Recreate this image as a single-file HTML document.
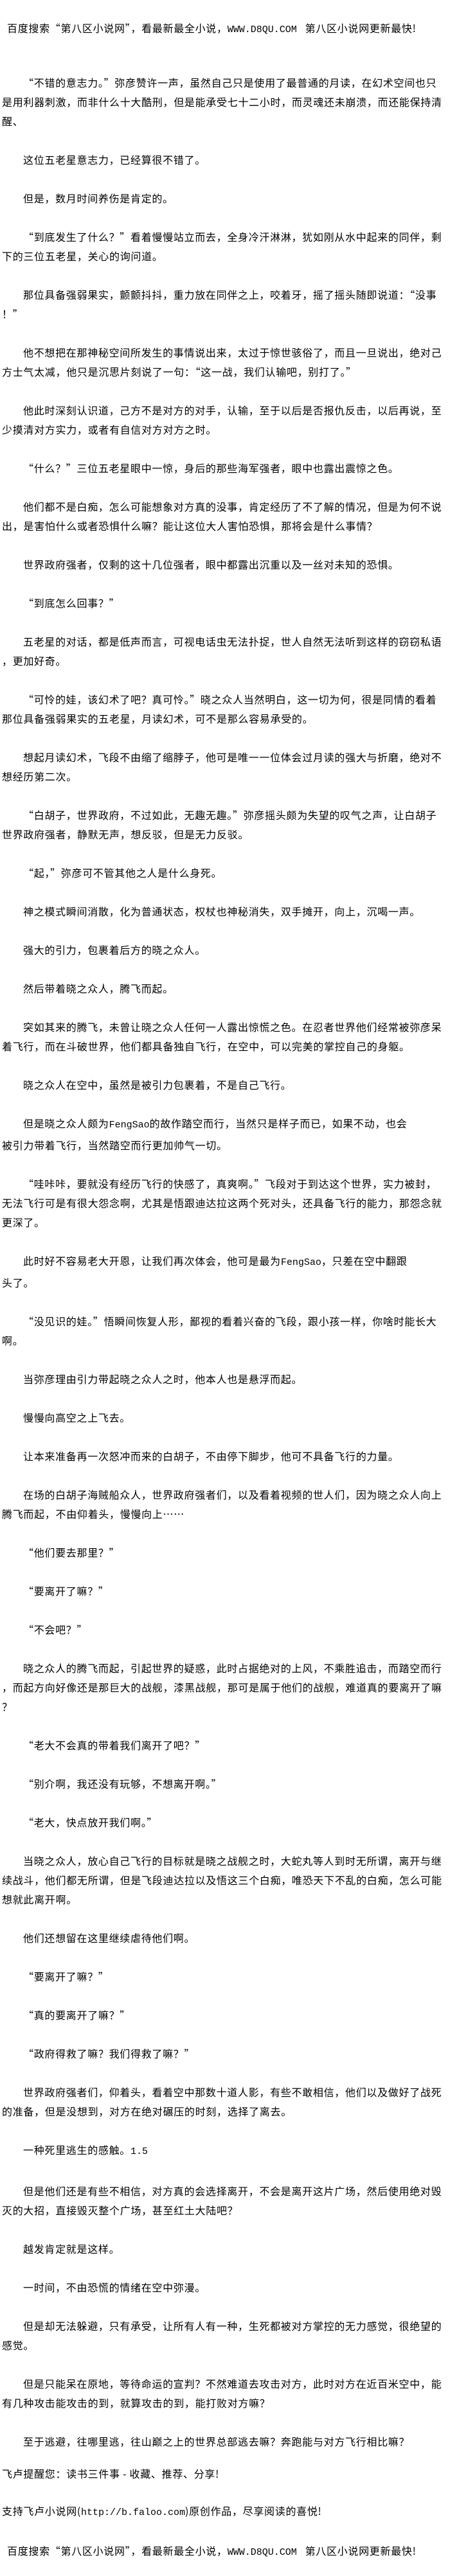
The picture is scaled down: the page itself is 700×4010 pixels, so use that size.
<!DOCTYPE html>
<html><head><meta charset="utf-8">
<style>
html,body{margin:0;padding:0;background:#fff;}
body{width:700px;height:4010px;position:relative;overflow:hidden;color:#000;
font-family:"Noto Sans CJK SC","Liberation Sans",sans-serif;font-size:16px;letter-spacing:0.7px;}
.l{position:absolute;left:3px;white-space:nowrap;line-height:30px;height:30px;}
#main{position:absolute;left:3px;top:113px;width:697px;line-height:30px;white-space:nowrap;}
#main p{margin:0 0 30px 0;text-indent:33px;}
.m{font-family:"Liberation Mono",monospace;font-size:15px;letter-spacing:0;}
</style></head><body>
<div class="l" style="top:28px;left:11px">百度搜索“第八区小说网”，看最新最全小说，<span class="m">WWW.D8QU.COM</span>&nbsp;&nbsp;&nbsp;第八区小说网更新最快!</div>
<div id="main">
<p>“不错的意志力。”弥彦赞许一声，虽然自己只是使用了最普通的月读，在幻术空间也只<br>是用利器刺激，而非什么十大酷刑，但是能承受七十二小时，而灵魂还未崩溃，而还能保持清<br>醒、</p>
<p>这位五老星意志力，已经算很不错了。</p>
<p>但是，数月时间养伤是肯定的。</p>
<p>“到底发生了什么？”看着慢慢站立而去，全身冷汗淋淋，犹如刚从水中起来的同伴，剩<br>下的三位五老星，关心的询问道。</p>
<p>那位具备强弱果实，颤颤抖抖，重力放在同伴之上，咬着牙，摇了摇头随即说道：“没事<br>！”</p>
<p>他不想把在那神秘空间所发生的事情说出来，太过于惊世骇俗了，而且一旦说出，绝对己<br>方士气太减，他只是沉思片刻说了一句：“这一战，我们认输吧，别打了。”</p>
<p>他此时深刻认识道，己方不是对方的对手，认输，至于以后是否报仇反击，以后再说，至<br>少摸清对方实力，或者有自信对方对方之时。</p>
<p>“什么？”三位五老星眼中一惊，身后的那些海军强者，眼中也露出震惊之色。</p>
<p>他们都不是白痴，怎么可能想象对方真的没事，肯定经历了不了解的情况，但是为何不说<br>出，是害怕什么或者恐惧什么嘛？能让这位大人害怕恐惧，那将会是什么事情？</p>
<p>世界政府强者，仅剩的这十几位强者，眼中都露出沉重以及一丝对未知的恐惧。</p>
<p>“到底怎么回事？”</p>
<p>五老星的对话，都是低声而言，可视电话虫无法扑捉，世人自然无法听到这样的窃窃私语<br>，更加好奇。</p>
<p>“可怜的娃，该幻术了吧？真可怜。”晓之众人当然明白，这一切为何，很是同情的看着<br>那位具备强弱果实的五老星，月读幻术，可不是那么容易承受的。</p>
<p>想起月读幻术，飞段不由缩了缩脖子，他可是唯一一位体会过月读的强大与折磨，绝对不<br>想经历第二次。</p>
<p>“白胡子，世界政府，不过如此，无趣无趣。”弥彦摇头颇为失望的叹气之声，让白胡子<br>世界政府强者，静默无声，想反驳，但是无力反驳。</p>
<p>“起，”弥彦可不管其他之人是什么身死。</p>
<p>神之模式瞬间消散，化为普通状态，权杖也神秘消失，双手摊开，向上，沉喝一声。</p>
<p>强大的引力，包裹着后方的晓之众人。</p>
<p>然后带着晓之众人，腾飞而起。</p>
<p>突如其来的腾飞，未曾让晓之众人任何一人露出惊慌之色。在忍者世界他们经常被弥彦呆<br>着飞行，而在斗破世界，他们都具备独自飞行，在空中，可以完美的掌控自己的身躯。</p>
<p>晓之众人在空中，虽然是被引力包裹着，不是自己飞行。</p>
<p>但是晓之众人颇为<span class="m">FengSao</span>的故作踏空而行，当然只是样子而已，如果不动，也会<br>被引力带着飞行，当然踏空而行更加帅气一切。</p>
<p>“哇咔咔，要就没有经历飞行的快感了，真爽啊。”飞段对于到达这个世界，实力被封，<br>无法飞行可是有很大怨念啊，尤其是悟跟迪达拉这两个死对头，还具备飞行的能力，那怨念就<br>更深了。</p>
<p>此时好不容易老大开恩，让我们再次体会，他可是最为<span class="m">FengSao</span>，只差在空中翻跟<br>头了。</p>
<p>“没见识的娃。”悟瞬间恢复人形，鄙视的看着兴奋的飞段，跟小孩一样，你啥时能长大<br>啊。</p>
<p>当弥彦理由引力带起晓之众人之时，他本人也是悬浮而起。</p>
<p>慢慢向高空之上飞去。</p>
<p>让本来准备再一次怒冲而来的白胡子，不由停下脚步，他可不具备飞行的力量。</p>
<p>在场的白胡子海贼船众人，世界政府强者们，以及看着视频的世人们，因为晓之众人向上<br>腾飞而起，不由仰着头，慢慢向上……</p>
<p>“他们要去那里？”</p>
<p>“要离开了嘛？”</p>
<p>“不会吧？”</p>
<p>晓之众人的腾飞而起，引起世界的疑惑，此时占据绝对的上风，不乘胜追击，而踏空而行<br>，而起方向好像还是那巨大的战舰，漆黑战舰，那可是属于他们的战舰，难道真的要离开了嘛<br>？</p>
<p>“老大不会真的带着我们离开了吧？”</p>
<p>“别介啊，我还没有玩够，不想离开啊。”</p>
<p>“老大，快点放开我们啊。”</p>
<p>当晓之众人，放心自己飞行的目标就是晓之战舰之时，大蛇丸等人到时无所谓，离开与继<br>续战斗，他们都无所谓，但是飞段迪达拉以及悟这三个白痴，唯恐天下不乱的白痴，怎么可能<br>想就此离开啊。</p>
<p>他们还想留在这里继续虐待他们啊。</p>
<p>“要离开了嘛？”</p>
<p>“真的要离开了嘛？”</p>
<p>“政府得救了嘛？我们得救了嘛？”</p>
<p>世界政府强者们，仰着头，看着空中那数十道人影，有些不敢相信，他们以及做好了战死<br>的准备，但是没想到，对方在绝对碾压的时刻，选择了离去。</p>
<p>一种死里逃生的感触。<span class="m">1.5</span></p>
<p>但是他们还是有些不相信，对方真的会选择离开，不会是离开这片广场，然后使用绝对毁<br>灭的大招，直接毁灭整个广场，甚至红土大陆吧？</p>
<p>越发肯定就是这样。</p>
<p>一时间，不由恐慌的情绪在空中弥漫。</p>
<p>但是却无法躲避，只有承受，让所有人有一种，生死都被对方掌控的无力感觉，很绝望的<br>感觉。</p>
<p>但是只能呆在原地，等待命运的宣判？不然难道去攻击对方，此时对方在近百米空中，能<br>有几种攻击能攻击的到，就算攻击的到，能打败对方嘛？</p>
<p>至于逃避，往哪里逃，往山巅之上的世界总部逃去嘛？奔跑能与对方飞行相比嘛？</p>
</div>
<div class="l" style="top:3835px">飞卢提醒您：读书三件事 - 收藏、推荐、分享!</div>
<div class="l" style="top:3893px">支持飞卢小说网(<span class="m">http://b.faloo.com</span>)原创作品，尽享阅读的喜悦!</div>
<div class="l" style="top:3955px;left:11px">百度搜索“第八区小说网”，看最新最全小说，<span class="m">WWW.D8QU.COM</span>&nbsp;&nbsp;&nbsp;第八区小说网更新最快!</div>
</body></html>
